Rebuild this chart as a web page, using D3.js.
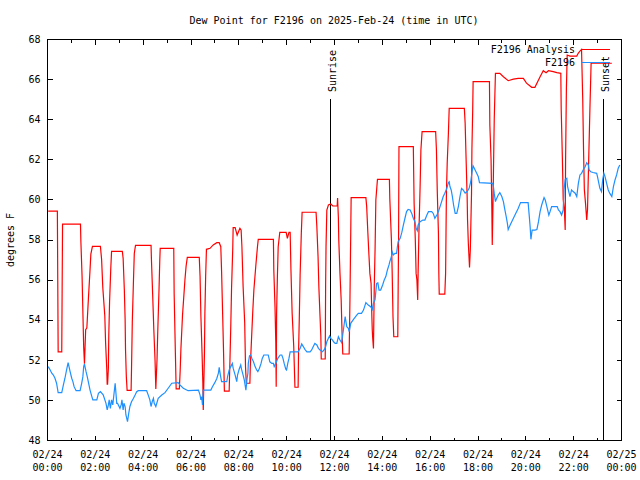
<!DOCTYPE html>
<html>
<head>
<meta charset="utf-8">
<script src="https://cdn.jsdelivr.net/npm/d3@7"></script>
<style>
  html, body { margin: 0; padding: 0; background: #fff; }
  text { font-family: "DejaVu Sans Mono", "Liberation Mono", monospace; font-size: 10px; fill: #000; }
</style>
</head>
<body>
<svg id="chart" width="640" height="480"></svg>
<script>
// ---- Data (time in minutes after 2025-02-24 00:00 UTC, dew point in °F) ----
const analysisSeries = [
  [3,59.42],[26,59.42],[27,55.98],[28,52.4],[37,52.4],[38,55.6],[39,58.77],[84,58.77],[85,57.9],[88,56.15],
  [90,54.4],[92,52.65],[94,51.8],[97,53.5],[100,53.6],[104,55.1],[108,56.5],[110,57.27],[114,57.66],[134,57.66],
  [137,57.0],[140,55.6],[145,54.2],[147,52.85],[150,51.5],[151,50.78],[152,50.78],[154,51.6],[155,53.24],[157,54.9],
  [160,56.56],[162,57.41],[189,57.41],[191,57.06],[194,55.5],[196,54.0],[197,52.5],[199,51.16],[201,50.48],[211,50.48],
  [212,51.5],[214,53.9],[217,56.0],[219,57.3],[222,57.71],[261,57.71],[262,57.0],[265,55.3],[268,53.5],[271,52.0],
  [273,50.55],[276,52.0],[278,53.5],[281,55.5],[283,57.0],[284,57.56],[318,57.56],[319,55.3],[322,52.4],[324,50.55],
  [332,50.55],[334,51.41],[336,52.57],[338,53.4],[340,54.23],[343,55.1],[346,55.98],[349,56.68],[352,57.11],[382,57.11],
  [384,56.15],[386,54.23],[389,52.32],[391,50.83],[392,49.5],[395,52.32],[396,54.23],[398,56.15],[400,57.51],[409,57.56],
  [417,57.73],[426,57.84],[432,57.84],[436,57.64],[438,56.4],[441,53.99],[443,52.32],[445,50.44],[457,50.44],[459,51.99],
  [461,53.65],[463,55.57],[466,57.56],[467,58.59],[472,58.59],[477,58.22],[484,58.56],[487,58.47],[489,57.64],[492,55.65],
  [496,53.82],[498,51.66],[500,50.83],[509,50.83],[510,51.66],[513,52.99],[516,54.32],[519,55.48],[524,56.73],[528,57.64],
  [530,58.01],[568,58.01],[569,56.48],[572,54.65],[574,52.82],[575,50.66],[576,54.32],[578,56.15],[580,57.64],[584,58.36],
  [600,58.36],[603,58.06],[607,58.36],[610,58.36],[612,56.48],[615,54.32],[619,52.66],[622,50.63],[630,50.63],[631,52.32],
  [633,54.15],[635,56.23],[638,58.31],[640,59.36],[675,59.36],[677,58.64],[680,57.14],[682,55.65],[685,54.15],[687,53.15],
  [688,52.04],[698,52.04],[699,55.73],[700,57.64],[702,59.47],[706,59.72],[712,59.77],[717,59.67],[728,59.67],[729,60.07],
  [731,59.06],[732,57.98],[735,56.31],[738,54.98],[740,53.49],[742,52.29],[758,52.29],[760,54.98],[762,58.31],[763,60.09],
  [800,60.09],[802,59.64],[805,58.31],[807,57.48],[810,56.31],[813,55.81],[815,54.15],[816,53.49],[817,53.12],[819,52.57],
  [821,55.65],[823,57.48],[825,59.97],[829,61.0],[859,61.0],[860,60.05],[864,58.0],[866,56.31],[868,54.15],[870,53.15],
  [880,53.15],[881,55.65],[882,58.0],[883,62.63],[919,62.63],[921,59.8],[924,57.98],[926,56.31],[928,55.98],[930,54.98],
  [931,56.31],[933,58.31],[936,60.63],[938,62.46],[941,63.38],[975,63.38],[977,62.46],[979,60.47],[982,58.31],[983,56.31],
  [984,55.28],[998,55.28],[1000,56.31],[1001,58.31],[1002,60.3],[1004,61.8],[1007,63.3],[1009,64.54],[1047,64.54],[1049,63.8],
  [1051,62.3],[1054,60.14],[1055,59.0],[1057,57.8],[1060,56.61],[1062,57.5],[1065,60.3],[1066,62.5],[1068,64.5],[1069,65.87],
  [1110,65.87],[1111,63.7],[1114,62.0],[1116,59.5],[1117,57.73],[1119,60.0],[1122,64.0],[1125,66.29],[1136,66.29],[1145,66.12],
  [1157,65.92],[1170,66.0],[1182,66.04],[1195,66.04],[1203,65.8],[1216,65.59],[1224,65.59],[1237,66.12],[1245,66.42],[1252,66.32],
  [1258,66.42],[1270,66.37],[1279,66.32],[1289,66.29],[1290,64.5],[1293,62.0],[1295,60.0],[1298,59.47],[1300,58.47],[1301,62.0],
  [1303,65.5],[1305,67.2],[1312,67.15],[1320,67.15],[1329,67.15],[1333,67.3],[1337,67.4],[1341,67.48],[1344,65.0],[1346,62.5],
  [1348,60.5],[1351,59.8],[1354,58.97],[1356,59.5],[1359,62.0],[1362,64.5],[1365,66.79],[1417,66.79]
];
const stationSeries = [
  [3,51.66],[8,51.49],[12,51.33],[16,51.24],[20,51.08],[24,50.83],[28,50.36],[37,50.36],[41,50.74],[45,51.08],
  [49,51.49],[53,51.86],[58,51.41],[62,51.08],[65,50.91],[68,50.66],[73,50.46],[83,50.46],[87,50.83],[90,51.16],
  [92,51.66],[94,51.79],[98,51.41],[101,51.16],[108,50.49],[112,50.2],[115,50.0],[125,50.0],[129,50.33],[134,50.41],
  [141,50.25],[148,49.83],[151,49.5],[154,49.75],[156,50.0],[159,49.58],[162,50.0],[165,49.75],[171,50.83],[175,49.83],
  [177,49.83],[183,49.58],[186,49.75],[188,50.0],[191,49.5],[193,49.83],[196,49.67],[198,49.25],[202,48.92],[205,49.33],
  [208,49.67],[212,49.91],[217,50.08],[221,50.24],[225,50.41],[229,50.46],[250,50.46],[254,50.24],[258,50.0],[261,49.67],
  [264,49.92],[267,50.08],[269,49.83],[273,49.67],[279,50.08],[288,50.24],[296,50.36],[304,50.58],[313,50.83],[329,50.86],
  [334,50.74],[342,50.58],[354,50.46],[380,50.49],[384,50.24],[386,50.0],[388,50.16],[390,49.75],[392,50.49],[411,50.49],
  [415,50.66],[421,50.86],[426,51.07],[430,51.33],[432,51.62],[435,51.24],[438,50.91],[451,50.91],[453,51.16],[457,51.49],
  [461,51.66],[465,51.82],[467,51.58],[472,51.24],[476,50.91],[478,51.24],[482,51.53],[486,51.74],[488,51.53],[492,51.24],
  [495,50.99],[497,50.74],[499,50.49],[502,51.07],[504,51.33],[505,51.82],[508,52.2],[511,52.24],[514,52.07],[518,51.9],
  [522,51.66],[526,51.49],[529,51.41],[533,51.58],[537,51.82],[540,52.07],[544,52.24],[555,52.24],[559,51.9],[564,51.82],
  [568,51.82],[570,51.66],[574,51.82],[579,52.07],[585,52.24],[589,52.24],[592,52.07],[595,51.82],[599,51.53],[601,51.49],
  [604,51.82],[607,52.07],[610,52.4],[630,52.4],[635,52.57],[639,52.79],[643,52.66],[647,52.52],[652,52.4],[660,52.4],
  [664,52.49],[668,52.66],[672,52.82],[677,52.74],[681,52.57],[685,52.49],[691,52.4],[696,52.52],[699,52.66],[702,52.9],
  [706,53.07],[709,53.19],[712,53.07],[716,52.99],[719,52.9],[723,52.82],[727,52.82],[731,53.15],[735,52.99],[739,52.86],
  [743,53.4],[748,54.15],[752,53.65],[756,53.57],[758,53.4],[762,53.82],[768,53.99],[777,54.23],[781,54.32],[789,54.32],
  [794,54.48],[800,54.85],[806,54.73],[812,54.65],[816,54.51],[819,54.82],[823,55.0],[827,55.81],[830,55.84],[833,55.48],
  [837,55.48],[842,55.73],[846,55.98],[850,56.15],[854,56.48],[858,56.73],[860,56.9],[864,57.14],[866,57.39],[869,57.23],
  [873,57.31],[877,57.31],[879,57.64],[881,57.89],[886,58.06],[890,58.34],[894,58.72],[898,59.06],[902,59.39],[906,59.5],
  [911,59.47],[915,59.3],[919,59.06],[923,58.89],[926,58.56],[929,58.44],[931,58.72],[936,58.89],[943,58.97],[948,58.97],
  [953,59.22],[957,59.39],[965,59.39],[969,59.3],[973,59.06],[978,59.22],[982,59.39],[986,59.64],[990,59.89],[994,60.14],
  [998,60.31],[1003,60.55],[1007,60.84],[1009,60.88],[1011,60.63],[1014,60.47],[1017,60.14],[1020,59.72],[1024,59.3],[1028,59.3],
  [1032,59.64],[1036,60.14],[1040,60.55],[1044,60.47],[1049,60.31],[1054,60.39],[1059,60.55],[1063,60.88],[1067,61.47],[1069,61.67],
  [1074,61.47],[1078,61.3],[1082,61.13],[1085,60.84],[1118,60.8],[1120,60.63],[1122,60.3],[1125,59.89],[1128,60.05],[1132,60.22],
  [1136,60.34],[1141,60.14],[1145,59.89],[1148,59.55],[1152,59.14],[1155,58.8],[1157,58.5],[1162,58.72],[1168,58.97],[1174,59.22],
  [1182,59.55],[1188,59.84],[1207,59.84],[1210,59.14],[1212,58.64],[1214,58.01],[1217,58.47],[1224,58.47],[1229,58.5],[1233,58.89],
  [1237,59.39],[1241,59.72],[1247,60.09],[1250,59.97],[1254,59.64],[1259,59.22],[1262,59.39],[1266,59.64],[1274,59.64],[1280,59.64],
  [1283,59.47],[1287,59.39],[1291,59.22],[1295,59.47],[1297,60.47],[1300,61.0],[1304,61.05],[1306,60.64],[1309,60.39],[1312,60.14],
  [1316,60.47],[1320,60.39],[1325,60.31],[1329,60.14],[1333,60.8],[1337,61.22],[1341,61.3],[1345,61.47],[1350,61.63],[1354,61.83],
  [1358,61.72],[1360,61.47],[1364,61.38],[1370,61.34],[1379,61.3],[1381,61.14],[1387,60.55],[1391,60.39],[1394,60.97],[1397,61.3],
  [1400,61.13],[1404,60.8],[1408,60.47],[1412,60.3],[1417,60.14],[1421,60.64],[1425,60.97],[1429,61.22],[1433,61.55],[1437,61.72]
];
const seriesNames = ["F2196 Analysis", "F2196"];
const seriesColors = ["#ff0000", "#1e90ff"];
const dateLabels = ["02/24","02/24","02/24","02/24","02/24","02/24","02/24","02/24","02/24","02/24","02/24","02/24","02/25"];
const timeLabels = ["00:00","02:00","04:00","06:00","08:00","10:00","12:00","14:00","16:00","18:00","20:00","22:00","00:00"];
const yTicks = [48,50,52,54,56,58,60,62,64,66,68];
const sunEvents = [["Sunrise", 711], ["Sunset", 1396]]; // minutes
const titleText = "Dew Point for F2196 on 2025-Feb-24 (time in UTC)";
const yLabel = "degrees F";

// ---- Layout ----
const L = 47, R = 621, T = 39, B = 440;
const svg = d3.select("#chart");
svg.append("rect").attr("width", 640).attr("height", 480).attr("fill", "#fff");

const x = d3.scaleLinear().domain([0, 1440]).range([L, R]);
const y = d3.scaleLinear().domain([48, 68]).range([B, T]);

// title
svg.append("text").attr("x", 334).attr("y", 24).attr("text-anchor", "middle").text(titleText);
// y label
svg.append("text").attr("transform", "translate(14,240) rotate(-90)").attr("text-anchor", "middle").text(yLabel);

// axes
const majorT = d3.range(0, 1441, 120);
const minorT = d3.range(60, 1440, 120);

const gB = svg.append("g").attr("transform", `translate(0,${B + 0.5})`)
  .call(d3.axisBottom(x).tickValues(majorT).tickSize(-5).tickSizeOuter(0).tickFormat(() => ""));
gB.selectAll(".tick text").each(function(d, i) {
  const t = d3.select(this).attr("dy", null).attr("y", null);
  t.append("tspan").attr("x", 0).attr("y", 17).text(dateLabels[i]);
  t.append("tspan").attr("x", 0).attr("y", 30).text(timeLabels[i]);
});
svg.append("g").attr("transform", `translate(0,${B + 0.5})`)
  .call(d3.axisBottom(x).tickValues(minorT).tickSize(-3).tickSizeOuter(0).tickFormat(() => ""));
svg.append("g").attr("transform", `translate(0,${T + 0.5})`)
  .call(d3.axisTop(x).tickValues(majorT).tickSize(-5).tickSizeOuter(0).tickFormat(() => ""));
svg.append("g").attr("transform", `translate(0,${T + 0.5})`)
  .call(d3.axisTop(x).tickValues(minorT).tickSize(-3).tickSizeOuter(0).tickFormat(() => ""));
svg.append("g").attr("transform", `translate(${L + 0.5},0)`)
  .call(d3.axisLeft(y).tickValues(yTicks).tickSize(-5).tickSizeOuter(0).tickPadding(7).tickFormat(d3.format("d")));
svg.append("g").attr("transform", `translate(${R + 0.5},0)`)
  .call(d3.axisRight(y).tickValues(yTicks).tickSize(-5).tickSizeOuter(0).tickFormat(() => ""));

svg.selectAll(".domain").remove();
svg.selectAll(".tick line").attr("stroke", "#000").attr("shape-rendering", "crispEdges");
svg.selectAll(".tick text").style("font-family", "'DejaVu Sans Mono', monospace").style("font-size", "10px").attr("fill", "#000");

// plot frame
svg.append("rect").attr("x", L + 0.5).attr("y", T + 0.5).attr("width", R - L).attr("height", B - T)
  .attr("fill", "none").attr("stroke", "#000").attr("shape-rendering", "crispEdges");

// sunrise / sunset markers
sunEvents.forEach(([name, m]) => {
  const px = Math.round(x(m)) + 0.5;
  svg.append("line").attr("x1", px).attr("x2", px).attr("y1", y(65)).attr("y2", B)
    .attr("stroke", "#000").attr("shape-rendering", "crispEdges");
  svg.append("text").attr("transform", `translate(${px + 5},92) rotate(-90)`).text(name);
});

// data lines
const line = d3.line().x(d => x(d[0])).y(d => y(d[1]));
[analysisSeries, stationSeries].forEach((s, i) => {
  svg.append("path").datum(s).attr("d", line).attr("fill", "none")
    .attr("stroke", seriesColors[i]).attr("stroke-width", 1.2).attr("stroke-linejoin", "miter");
});

// legend
seriesNames.forEach((n, i) => {
  const ly = 49.5 + i * 13;
  svg.append("text").attr("x", 575).attr("y", ly + 3.5).attr("text-anchor", "end").text(n);
  svg.append("line").attr("x1", 582).attr("x2", 610).attr("y1", ly).attr("y2", ly)
    .attr("stroke", seriesColors[i]).attr("stroke-width", 1.5).attr("shape-rendering", "crispEdges");
});
</script>
</body>
</html>
